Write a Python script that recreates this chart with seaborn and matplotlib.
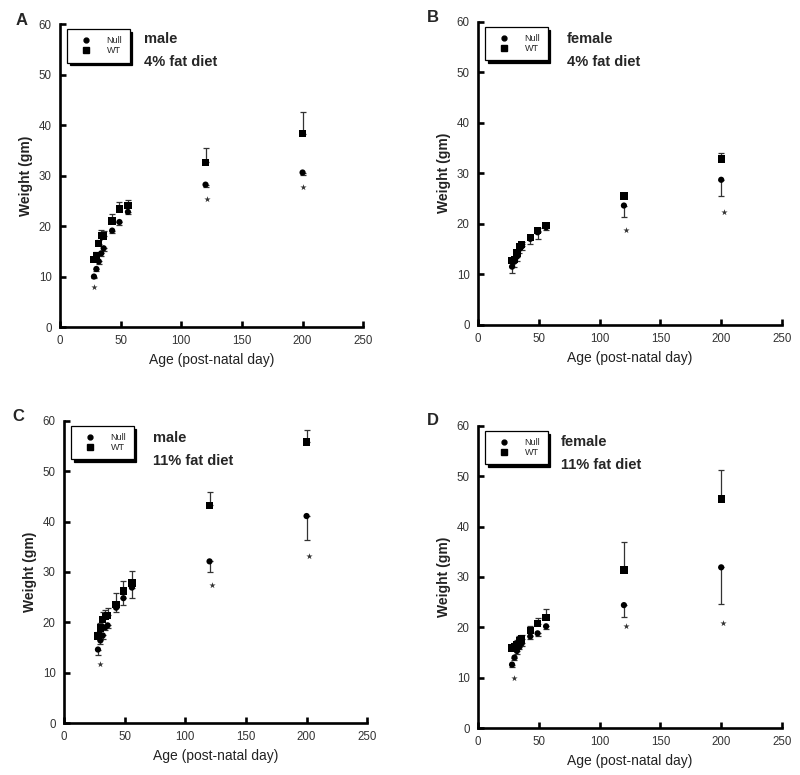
import numpy as np
import pandas as pd
import matplotlib
matplotlib.use("Agg")
import matplotlib.pyplot as plt
from matplotlib.lines import Line2D
import seaborn as sns

# ages (post-natal day), shared by all panels
ages = [28, 30, 32, 34, 36, 43, 49, 56, 120, 200]

# A: male, 4% fat
a_wt = [13.4, 14.2, 16.5, 18.1, 18.0, 21.0, 23.4, 24.1, 32.6, 38.3]
a_wt_err = [0.5, 0.6, 0.8, 1.2, 1.0, 1.3, 1.4, 1.0, 2.8, 4.2]
a_null = [10.0, 11.5, 13.0, 14.6, 15.6, 19.1, 20.8, 22.8, 28.2, 30.6]
a_null_err = [0.3, 0.5, 0.5, 0.6, 0.5, 0.5, 0.6, 0.4, 0.5, 0.5]
a_star_x = [28, 121, 200]
a_star_y = [7.9, 25.4, 27.7]

# B: female, 4% fat
b_wt = [12.7, 12.9, 14.2, 15.5, 15.9, 17.3, 18.6, 19.6, 25.5, 32.8]
b_wt_err = [0.4, 0.4, 0.5, 0.5, 0.5, 0.5, 0.5, 0.4, 0.4, 1.3]
b_null = [11.5, 12.5, 13.5, 15.0, 15.5, 17.0, 18.3, 19.3, 23.6, 28.7]
b_null_err = [1.3, 1.0, 0.9, 0.8, 0.7, 1.0, 1.4, 0.6, 2.2, 3.3]
b_star_x = [122, 202]
b_star_y = [18.8, 22.4]

# C: male, 11% fat
c_wt = [17.3, 18.9, 20.6, 21.2, 21.4, 23.6, 26.2, 27.8, 43.2, 55.8]
c_wt_err = [0.8, 1.0, 1.5, 1.2, 1.5, 2.3, 2.1, 2.3, 2.6, 2.4]
c_null = [14.6, 16.4, 17.4, 19.0, 19.4, 22.9, 24.8, 26.9, 32.1, 41.1]
c_null_err = [1.1, 0.7, 0.8, 0.6, 0.6, 0.8, 1.4, 2.0, 2.2, 4.8]
c_star_x = [29.5, 122, 202]
c_star_y = [11.8, 27.4, 33.2]

# D: female, 11% fat
d_wt = [15.9, 16.2, 16.6, 17.4, 17.7, 19.4, 20.7, 21.9, 31.4, 45.5]
d_wt_err = [0.5, 0.6, 0.8, 0.9, 0.8, 0.9, 1.2, 1.7, 5.6, 5.7]
d_null = [12.6, 14.0, 15.3, 16.1, 16.8, 18.2, 18.8, 20.2, 24.4, 31.9]
d_null_err = [0.5, 0.5, 0.6, 0.5, 0.6, 0.6, 0.5, 0.5, 2.4, 7.2]
d_star_x = [29.5, 122, 201.5]
d_star_y = [10.0, 20.2, 20.9]

sns.set_style("ticks")
plt.rcParams["font.family"] = ["Liberation Sans", "DejaVu Sans"]

fig = plt.figure(figsize=(8, 7.75), dpi=100)

panels = [
    ("A", "male", "4% fat diet", a_wt, a_wt_err, a_null, a_null_err, a_star_x, a_star_y,
     [0.075, 0.578, 0.379, 0.391], (69, 57.0), (0.019, 0.974)),
    ("B", "female", "4% fat diet", b_wt, b_wt_err, b_null, b_null_err, b_star_x, b_star_y,
     [0.5975, 0.581, 0.38, 0.391], (73, 56.6), (0.534, 0.978)),
    ("C", "male", "11% fat diet", c_wt, c_wt_err, c_null, c_null_err, c_star_x, c_star_y,
     [0.08, 0.067, 0.379, 0.39], (73, 56.5), (0.016, 0.463)),
    ("D", "female", "11% fat diet", d_wt, d_wt_err, d_null, d_null_err, d_star_x, d_star_y,
     [0.5975, 0.0606, 0.38, 0.39], (68, 56.7), (0.534, 0.458)),
]

for letter, sex, diet, wt, wt_err, null, null_err, sx, sy, pos, txt, lpos in panels:
    ax = fig.add_axes(pos)
    df = pd.DataFrame({
        "age": ages + ages,
        "weight": wt + null,
        "genotype": ["WT"] * len(ages) + ["Null"] * len(ages),
    })

    # one-sided error bars: WT upward, Null downward
    ax.errorbar(ages, wt, yerr=[np.zeros(len(wt)), wt_err], fmt="none",
                ecolor="#333333", elinewidth=0.9, capsize=2.0, capthick=0.9, zorder=2)
    ax.errorbar(ages, null, yerr=[null_err, np.zeros(len(null))], fmt="none",
                ecolor="#333333", elinewidth=0.9, capsize=2.0, capthick=0.9, zorder=2)

    sns.scatterplot(data=df, x="age", y="weight", style="genotype",
                    markers={"WT": "s", "Null": "o"}, size="genotype",
                    sizes={"WT": 28, "Null": 20}, color="black",
                    edgecolor="black", linewidth=0, legend=False, ax=ax, zorder=3)

    ax.scatter(sx, sy, marker="*", s=22, color="#333333", linewidths=0, zorder=3)

    ax.set_xlim(0, 250)
    ax.set_ylim(0, 60)
    ax.set_xticks([0, 50, 100, 150, 200, 250])
    ax.set_yticks([0, 10, 20, 30, 40, 50, 60])
    ax.set_xlabel("Age (post-natal day)", fontsize=10, color="#222222")
    ax.set_ylabel("Weight (gm)", fontsize=10, fontweight="bold", color="#222222")
    sns.despine(ax=ax)
    for s in ["left", "bottom"]:
        ax.spines[s].set_linewidth(1.9)
        ax.spines[s].set_color("black")
    ax.tick_params(direction="in", length=4, width=1.9, labelsize=8.3,
                   labelcolor="#333333", color="black", pad=6)

    ax.text(txt[0], txt[1], sex, fontsize=10.5, fontweight="bold", va="center")
    ax.text(txt[0], txt[1] - 4.5, diet, fontsize=10.5, fontweight="bold", va="center")
    fig.text(lpos[0], lpos[1], letter, fontsize=12, fontweight="bold",
             va="center", ha="left")

    handles = [
        Line2D([], [], marker="o", linestyle="none", color="black", markersize=3.5),
        Line2D([], [], marker="s", linestyle="none", color="black", markersize=4),
    ]
    leg = ax.legend(handles, ["Null", "WT"], loc="upper left",
                    bbox_to_anchor=(0.023, 0.983), fontsize=6.5, frameon=True,
                    fancybox=False, shadow={"color": "black", "alpha": 1},
                    handlelength=2.6, handletextpad=1.0, labelspacing=0.1,
                    borderpad=0.8, borderaxespad=0)
    leg.get_frame().set_edgecolor("black")
    leg.get_frame().set_linewidth(0.9)

fig.savefig("out.png", dpi=100)
